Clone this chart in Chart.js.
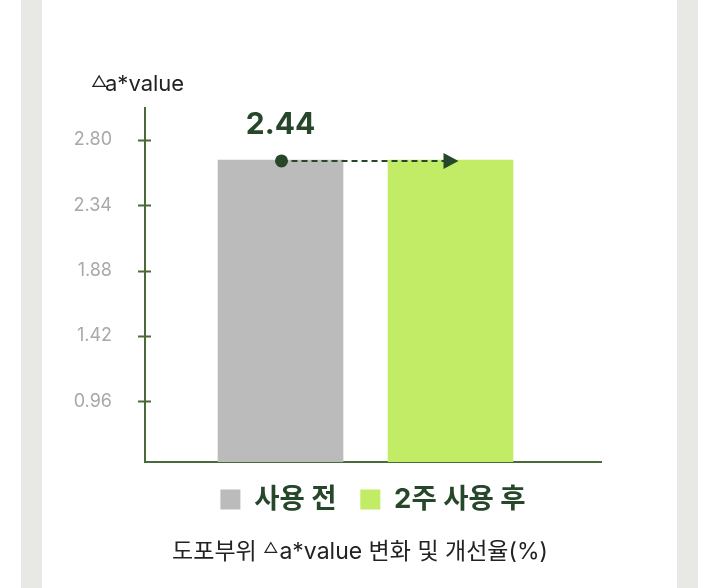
<!DOCTYPE html>
<html lang="ko">
<head>
<meta charset="utf-8">
<title>도포부위 △a*value 변화</title>
<script src="https://cdn.jsdelivr.net/npm/chart.js"></script>
<style>
  html, body { margin: 0; padding: 0; background: #fff; }
  .wrap { position: relative; width: 720px; height: 588px; overflow: hidden; }
  .band { position: absolute; top: 0; bottom: 0; width: 21px; background: #e8e9e5; }
  .band.l { left: 21px; }
  .band.r { left: 677px; }
  canvas { position: absolute; left: 0; top: 0; }
  .caption {
    position: absolute; left: 0; width: 720px; top: 536px;
    text-align: center; font: 23px Inter, "Noto Sans CJK KR", sans-serif;
    line-height: 30px; color: #222;
  }
  .caption .tri { font-size: 15px; position: relative; top: -6px; margin-right: 1px; }
</style>
</head>
<body>
<div class="wrap">
  <div class="band l"></div>
  <div class="band r"></div>
  <canvas id="myChart" width="720" height="588"></canvas>
  <div class="caption" id="caption"></div>
</div>
<script>
const labels = ['사용 전', '2주 사용 후'];
const values = [2.66, 2.66];
const slots = [1, 2];
const colors = ['#bbbbbb', '#c2eb66'];
const yTicks = [0.96, 1.42, 1.88, 2.34, 2.80];
const improvement = '2.44';
const yTitle = 'a*value';
const caption = ['도포부위 ', 'a*value 변화 및 개선율(%)'];

const green = '#4b6a3b';
const dark = '#27472b';
const family = 'Inter, "Noto Sans CJK KR", sans-serif';

document.getElementById('caption').innerHTML =
  caption[0] + '<span class="tri">△</span>' + caption[1];

// dot + dashed arrow, value label, tick crosses, axis title
const markers = {
  id: 'markers',
  afterDraw(chart) {
    const ctx = chart.ctx;
    const area = chart.chartArea;
    const y = chart.scales.y;
    const a = chart.getDatasetMeta(0).data[0];
    const b = chart.getDatasetMeta(1).data[0];
    ctx.save();

    ctx.strokeStyle = green;
    ctx.lineWidth = 2;
    y.ticks.forEach((t, i) => {
      const py = Math.round(y.getPixelForTick(i)) + 0.5;
      ctx.beginPath();
      ctx.moveTo(area.left - 7, py);
      ctx.lineTo(area.left + 6, py);
      ctx.stroke();
    });

    const x0 = a.x + 1;
    const y0 = a.y + 1;
    const x1 = b.x + 8;
    ctx.strokeStyle = dark;
    ctx.setLineDash([6, 4]);
    ctx.beginPath();
    ctx.moveTo(x0, y0);
    ctx.lineTo(x1 - 14, y0);
    ctx.stroke();
    ctx.setLineDash([]);
    ctx.fillStyle = dark;
    ctx.beginPath();
    ctx.moveTo(x1, y0);
    ctx.lineTo(x1 - 15, y0 - 8);
    ctx.lineTo(x1 - 15, y0 + 8);
    ctx.closePath();
    ctx.fill();
    ctx.beginPath();
    ctx.arc(x0, y0, 6.5, 0, Math.PI * 2);
    ctx.fill();

    ctx.font = 'bold 30px ' + family;
    ctx.textAlign = 'center';
    ctx.textBaseline = 'middle';
    ctx.fillText(improvement, x0 - 1, y0 - 36);

    // axis title: small raised triangle + text
    ctx.fillStyle = '#222';
    ctx.textAlign = 'left';
    ctx.textBaseline = 'alphabetic';
    ctx.font = '16px ' + family;
    ctx.fillText('△', area.left - 54, area.top - 21);
    ctx.font = '22px ' + family;
    ctx.fillText(yTitle, area.left - 40, area.top - 17);
    ctx.restore();
  }
};

const ctx = document.getElementById('myChart');
const chart = new Chart(ctx, {
  type: 'bar',
  data: {
    datasets: labels.map((l, i) => ({
      label: l,
      data: [{x: slots[i], y: values[i]}],
      backgroundColor: colors[i],
      borderWidth: 0,
      barThickness: 125,
      grouped: false
    }))
  },
  options: {
    responsive: false,
    animation: false,
    layout: { padding: { top: 108, left: 65, right: 119, bottom: 64.75 } },
    scales: {
      x: {
        type: 'linear',
        offset: false,
        min: 0.203,
        max: 2.885,
        afterFit: s => { s.height = 0; },
        grid: { display: false, drawTicks: false },
        border: { color: green, width: 2 },
        ticks: { display: false }
      },
      y: {
        min: 0.533,
        max: 3.026,
        afterBuildTicks: s => { s.ticks = yTicks.map(v => ({value: v})); },
        afterFit: s => { s.width = 80; },
        grid: { display: false, drawTicks: false },
        border: { color: green, width: 2 },
        ticks: {
          padding: 33,
          color: '#a8a8a8',
          font: { family: family, size: 18 },
          callback: v => v.toFixed(2)
        }
      }
    },
    plugins: {
      tooltip: { enabled: false },
      title: { display: false },
      legend: {
        position: 'bottom',
        fullSize: false,
        labels: {
          boxWidth: 20,
          boxHeight: 20,
          padding: 23.75,
          color: dark,
          font: { family: family, size: 27.5, weight: 'bold' }
        }
      }
    }
  },
  plugins: [markers]
});
</script>
</body>
</html>
